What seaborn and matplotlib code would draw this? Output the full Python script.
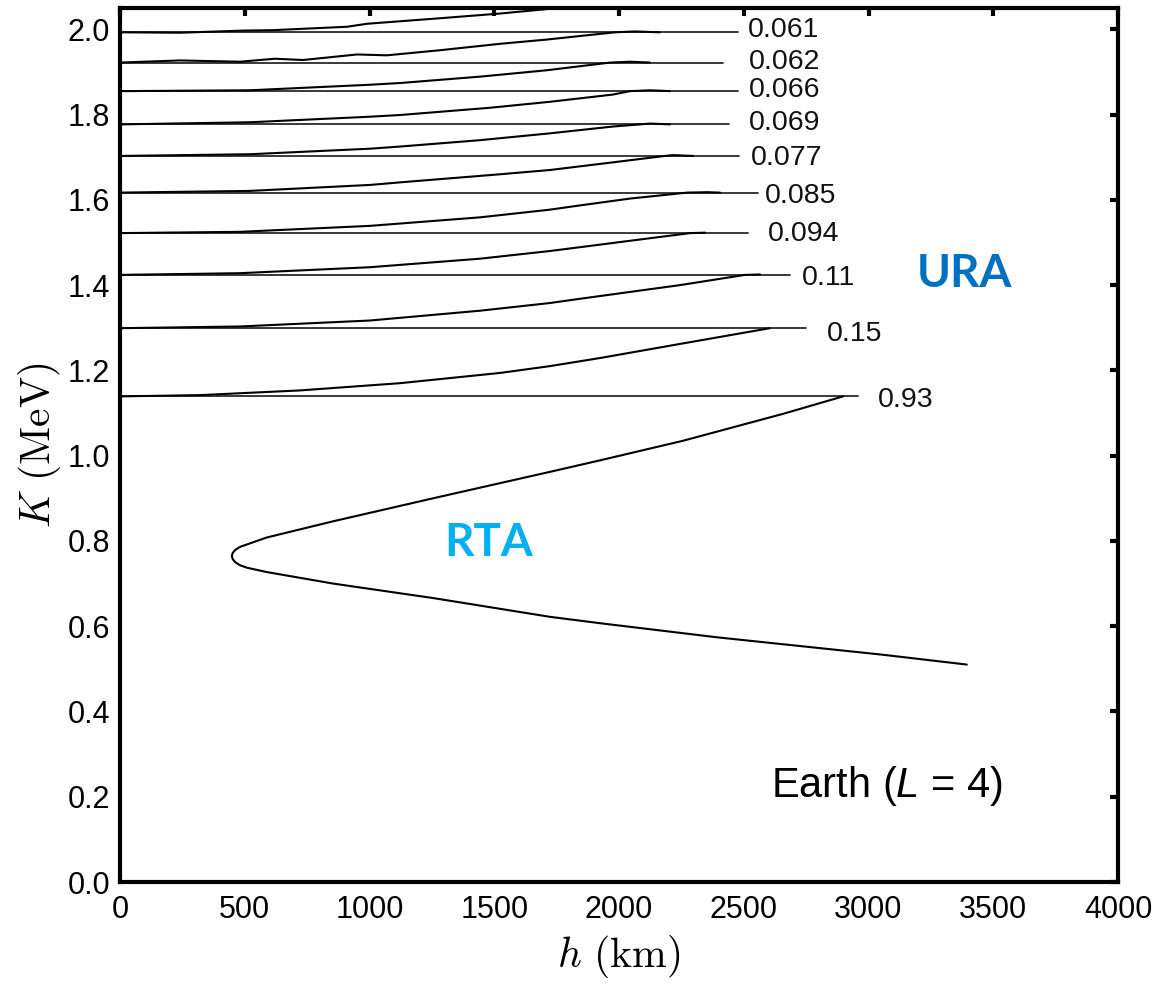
import matplotlib
matplotlib.use("Agg")
import matplotlib.pyplot as plt
import numpy as np
import pandas as pd
import seaborn as sns

# ---- horizontal levels (one per pitch-angle value) ----
level_labels = ["0.061", "0.062", "0.066", "0.069", "0.077",
                "0.085", "0.094", "0.11", "0.15", "0.93"]
level_K = [1.993, 1.922, 1.855, 1.777, 1.703, 1.617, 1.522, 1.424, 1.299, 1.139]
level_end_h = [2477, 2415, 2477, 2441, 2481, 2557, 2517, 2685, 2749, 2958]
label_h = [2517, 2521, 2521, 2521, 2529, 2585, 2597, 2733, 2834, 3038]
label_K = [1.999, 1.924, 1.857, 1.780, 1.697, 1.610, 1.520, 1.417, 1.285, 1.130]

# ---- rising branches connecting neighbouring levels ----
c0_h = [0, 240, 493, 613, 910, 990, 1283, 1523, 1703, 1804]
c0_K = [1.993, 1.992, 1.997, 1.998, 2.006, 2.013, 2.026, 2.037, 2.047, 2.054]

c1_h = [0, 240, 481, 621, 733, 950, 1070, 1283, 1523, 1711, 1984, 2064, 2164]
c1_K = [1.922, 1.927, 1.924, 1.931, 1.928, 1.941, 1.939, 1.951, 1.966, 1.976, 1.993, 1.995, 1.993]

c2_h = [0, 521, 1002, 1122, 1443, 1711, 1964, 2044, 2124]
c2_K = [1.855, 1.857, 1.870, 1.874, 1.889, 1.904, 1.922, 1.924, 1.922]

c3_h = [0, 521, 1002, 1122, 1483, 1723, 1976, 2044, 2124, 2204]
c3_K = [1.777, 1.782, 1.795, 1.799, 1.816, 1.830, 1.847, 1.855, 1.857, 1.855]

c4_h = [0, 521, 1002, 1122, 1443, 1723, 1976, 2084, 2124, 2204]
c4_K = [1.703, 1.707, 1.720, 1.725, 1.740, 1.756, 1.772, 1.777, 1.779, 1.777]

c5_h = [0, 521, 1002, 1122, 1523, 1723, 1976, 2184, 2216, 2297]
c5_K = [1.617, 1.621, 1.635, 1.641, 1.660, 1.670, 1.688, 1.703, 1.705, 1.703]

c6_h = [0, 481, 1002, 1443, 1723, 1844, 2044, 2273, 2353, 2405]
c6_K = [1.522, 1.525, 1.539, 1.559, 1.577, 1.587, 1.603, 1.617, 1.618, 1.617]

c7_h = [0, 481, 1002, 1443, 1723, 1844, 2044, 2285, 2345]
c7_K = [1.424, 1.428, 1.442, 1.462, 1.480, 1.489, 1.504, 1.522, 1.523]

c8_h = [0, 481, 1002, 1443, 1723, 1844, 2244, 2505, 2565]
c8_K = [1.299, 1.303, 1.317, 1.340, 1.358, 1.368, 1.400, 1.424, 1.425]

c9_h = [0, 321, 721, 1122, 1523, 1723, 1924, 2244, 2605]
c9_K = [1.139, 1.142, 1.153, 1.170, 1.194, 1.210, 1.229, 1.262, 1.299]

# ---- low-energy (RTA) branch ----
rta_h = [3394, 3058, 2392, 1924, 1723, 1255, 854, 588, 510, 481, 462, 452, 448,
         452, 462, 481, 510, 588, 854, 1255, 1723, 1924, 2257, 2657, 2898]
rta_K = [0.510, 0.533, 0.574, 0.607, 0.622, 0.666, 0.700, 0.727, 0.737, 0.743, 0.750, 0.757, 0.765,
         0.772, 0.779, 0.786, 0.792, 0.808, 0.846, 0.900, 0.962, 0.989, 1.035, 1.098, 1.139]

x_ticks = [0, 500, 1000, 1500, 2000, 2500, 3000, 3500, 4000]
y_ticks = [0.0, 0.2, 0.4, 0.6, 0.8, 1.0, 1.2, 1.4, 1.6, 1.8, 2.0]

# ---- styling ----
sns.set_style("white")
plt.rcParams["mathtext.fontset"] = "cm"
plt.rcParams["mathtext.rm"] = "Liberation Sans"
plt.rcParams["mathtext.it"] = "Liberation Sans:italic"
plt.rcParams["font.family"] = ["Liberation Sans", "DejaVu Sans"]
plt.rcParams["text.color"] = "black"
plt.rcParams["axes.labelcolor"] = "black"

fig = plt.figure(figsize=(11.66, 9.84), dpi=100)
ax = fig.add_axes([120 / 1166, 1 - 882 / 984, 998 / 1166, 874 / 984])

# long-form tables for seaborn
lev_rows = []
for i, (k, e) in enumerate(zip(level_K, level_end_h)):
    lev_rows.append({"h": 0, "K": k, "seg": i})
    lev_rows.append({"h": e, "K": k, "seg": i})
df_levels = pd.DataFrame(lev_rows)

curves_h = [c0_h, c1_h, c2_h, c3_h, c4_h, c5_h, c6_h, c7_h, c8_h, c9_h, rta_h]
curves_K = [c0_K, c1_K, c2_K, c3_K, c4_K, c5_K, c6_K, c7_K, c8_K, c9_K, rta_K]
cur_rows = []
for i, (hs, ks) in enumerate(zip(curves_h, curves_K)):
    for hv, kv in zip(hs, ks):
        cur_rows.append({"h": hv, "K": kv, "seg": i})
df_curves = pd.DataFrame(cur_rows)

sns.lineplot(data=df_levels, x="h", y="K", units="seg", estimator=None, sort=False,
             color="#2a2a2a", linewidth=1.3, ax=ax, legend=False)
sns.lineplot(data=df_curves, x="h", y="K", units="seg", estimator=None, sort=False,
             color="black", linewidth=1.5, ax=ax, legend=False)
for ln in ax.get_lines():
    ln.set_solid_joinstyle("round")

# value labels at the end of each level
for txt, hx, ky in zip(level_labels, label_h, label_K):
    ax.text(hx, ky, txt, ha="left", va="center", fontsize=20.5,
            family=["Liberation Sans", "DejaVu Sans"], color="#111111")

# region annotations
ax.text(3385, 1.425, "URA", ha="center", va="center", fontsize=33,
        fontweight="bold", family=["Lato", "DejaVu Sans"], color="#0070C0")
ax.text(1478, 0.795, "RTA", ha="center", va="center", fontsize=33,
        fontweight="bold", family=["Lato", "DejaVu Sans"], color="#00B0F0")
ax.text(3075, 0.224, r"Earth ($L$ = 4)", ha="center", va="center",
        fontsize=30, family=["Liberation Sans", "DejaVu Sans"], color="black",
        math_fontfamily="custom")

# axes
ax.set_xlim(0, 4000)
ax.set_ylim(0, 2.05)
ax.set_xticks(x_ticks)
ax.set_yticks(y_ticks)
ax.set_xticklabels([str(t) for t in x_ticks])
ax.set_yticklabels([f"{t:.1f}" for t in y_ticks])
for lab in ax.get_xticklabels() + ax.get_yticklabels():
    lab.set_family(["Liberation Sans", "DejaVu Sans"])
    lab.set_fontsize(22)
    lab.set_color("#111111")
ax.tick_params(direction="in", length=6, width=3, top=True, right=True,
               labelsize=22, colors="black")
ax.tick_params(axis="x", pad=9)
ax.tick_params(axis="y", pad=7)
for sp in ax.spines.values():
    sp.set_linewidth(3)
    sp.set_color("black")

ax.set_xlabel(r"$h\ (\mathrm{km})$", fontsize=30, labelpad=6, color="black")
ax.set_ylabel(r"$K\ (\mathrm{MeV})$", fontsize=30, labelpad=3, color="black")

fig.savefig("out.png", dpi=100, facecolor="white")
